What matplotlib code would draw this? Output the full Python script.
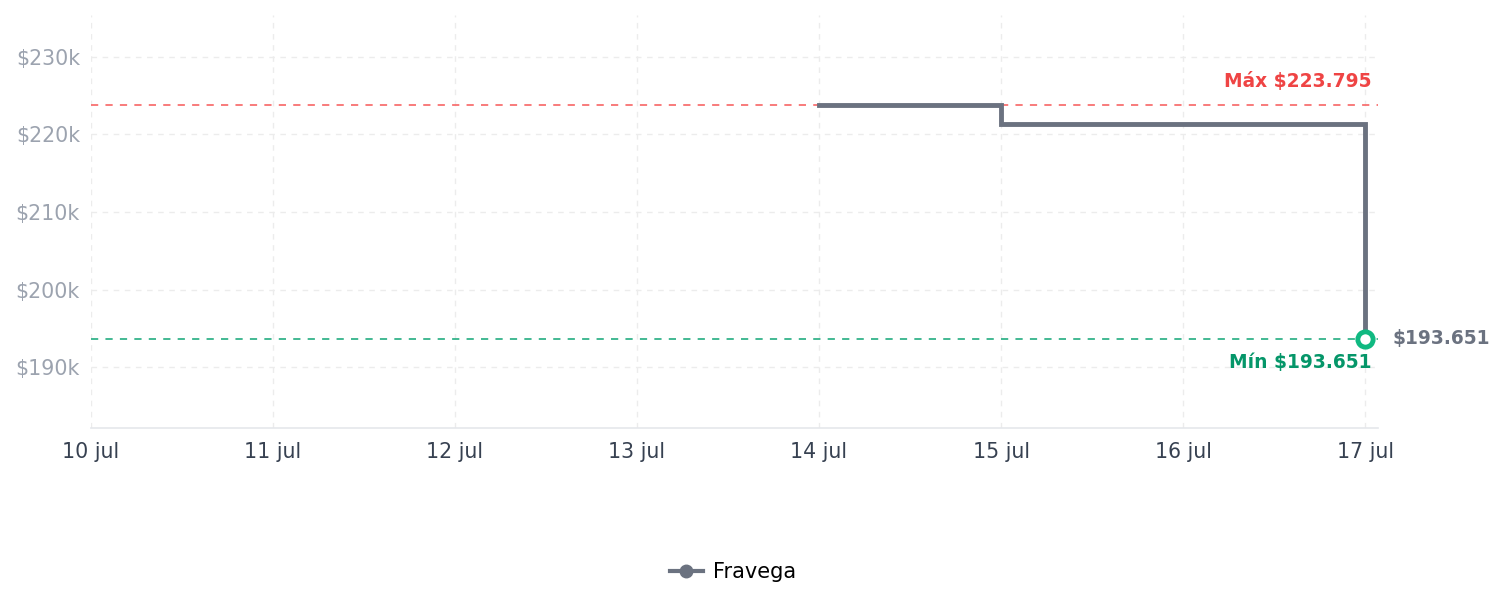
import matplotlib
matplotlib.use("Agg")
import matplotlib.pyplot as plt
import matplotlib.dates as mdates
from matplotlib.lines import Line2D
import datetime as dt

dates = ["2024-07-14", "2024-07-15", "2024-07-16", "2024-07-17"]
prices = [223795, 221300, 221300, 193651]
series_name = "Fravega"
tick_dates = ["2024-07-10", "2024-07-11", "2024-07-12", "2024-07-13",
              "2024-07-14", "2024-07-15", "2024-07-16", "2024-07-17"]
tick_labels = ["10 jul", "11 jul", "12 jul", "13 jul", "14 jul", "15 jul", "16 jul", "17 jul"]
y_ticks = [190000, 200000, 210000, 220000, 230000]
y_labels = ["$190k", "$200k", "$210k", "$220k", "$230k"]
max_label = "Máx $223.795"
min_label = "Mín $193.651"
last_label = "$193.651"

plt.rcParams['font.family'] = ['DejaVu Sans']

d = [dt.datetime.fromisoformat(s) for s in dates]
td = [dt.datetime.fromisoformat(s) for s in tick_dates]

fig = plt.figure(figsize=(15.05, 6.07), dpi=100)
ax = fig.add_axes([91/1505, 1-428/607, (1378-91)/1505, (428-15)/607])

line_c = "#6b7280"
ax.plot(d, prices, drawstyle="steps-post", color=line_c, lw=3.5, zorder=4,
        solid_joinstyle="miter")
pmax = max(prices)
pmin = min(prices)
ax.axhline(pmax, color="#f87171", lw=1.3, ls=(0, (4, 4)), zorder=2)
ax.axhline(pmin, color="#34b38a", lw=1.3, ls=(0, (4, 4)), zorder=2)
ax.plot([d[-1]], [prices[-1]], marker="o", ms=11, mfc="white", mec="#10b981", mew=3.5,
        zorder=6, ls="none")

ax.set_xlim(td[0], td[-1] + dt.timedelta(hours=24*13/182))
ax.set_ylim(182150, 235400)
ax.set_xticks(td)
ax.set_xticklabels(tick_labels)
ax.set_yticks(y_ticks)
ax.set_yticklabels(y_labels)
ax.tick_params(axis="x", colors="#374151", labelsize=14.8, length=0, pad=10)
ax.tick_params(axis="y", colors="#9ca3af", labelsize=14.8, length=0, pad=8)
for lbl in ax.get_xticklabels():
    lbl.set_color("#374151")
for lbl in ax.get_yticklabels():
    lbl.set_color("#9ca3af")

ax.grid(True, color="#ececec", lw=1, ls=(0, (4, 4)), zorder=0)
for s in ["top", "right", "left"]:
    ax.spines[s].set_visible(False)
ax.spines["bottom"].set_color("#e5e7eb")
ax.spines["bottom"].set_linewidth(1.2)

ax.annotate(max_label, xy=(td[-1], pmax), xytext=(5, 10), textcoords="offset points",
            ha="right", va="bottom", color="#ef4444", fontsize=13.4, fontweight="bold")
ax.annotate(min_label, xy=(td[-1], pmin), xytext=(5, -10), textcoords="offset points",
            ha="right", va="top", color="#059669", fontsize=13.4, fontweight="bold")
ax.annotate(last_label, xy=(d[-1], prices[-1]), xytext=(20, 0), textcoords="offset points",
            ha="left", va="center", color=line_c, fontsize=13.4, fontweight="bold",
            annotation_clip=False)

handle = Line2D([], [], color=line_c, lw=3, marker="o", ms=9, mfc=line_c, mec=line_c)
fig.legend([handle], [series_name], loc="center", bbox_to_anchor=(733/1505, 1-572/607),
           frameon=False, fontsize=15, handlelength=1.6, handletextpad=0.5)

fig.savefig("out.png", dpi=100)
